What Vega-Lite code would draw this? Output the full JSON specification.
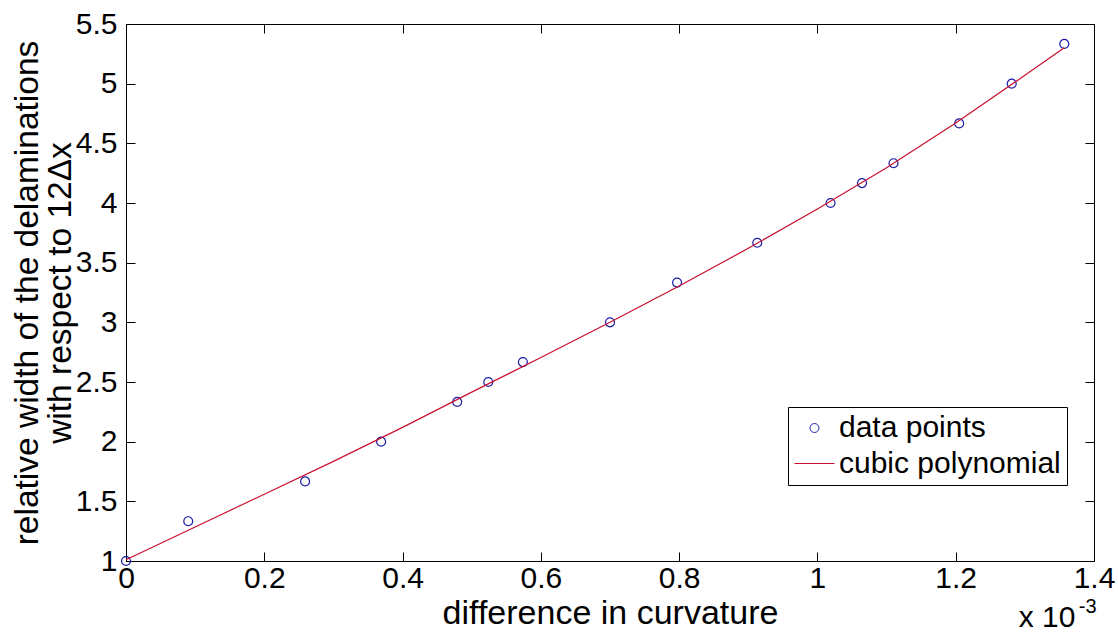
{
  "$schema": "https://vega.github.io/schema/vega-lite/v6.json",
  "width": 968,
  "height": 537,
  "autosize": "none",
  "padding": {"left": 126, "top": 24, "right": 24, "bottom": 75},
  "background": "white",
  "config": {
    "view": {"stroke": "black", "strokeWidth": 1},
    "font": "Liberation Sans",
    "axis": {
      "labelFont": "Liberation Sans", "labelFontSize": 30, "labelColor": "black",
      "tickColor": "black", "domainColor": "black", "grid": false, "tickSize": -9,
      "titleFont": "Liberation Sans", "titleFontSize": 33.5, "titleFontWeight": "normal", "titleColor": "black"
    }
  },
  "datasets": {
    "points": [
      {"x": 0, "y": 1, "series": "data points"},
      {"x": 0.090, "y": 1.3333, "series": "data points"},
      {"x": 0.259, "y": 1.6667, "series": "data points"},
      {"x": 0.369, "y": 2.0, "series": "data points"},
      {"x": 0.479, "y": 2.3333, "series": "data points"},
      {"x": 0.524, "y": 2.5, "series": "data points"},
      {"x": 0.574, "y": 2.6667, "series": "data points"},
      {"x": 0.700, "y": 3.0, "series": "data points"},
      {"x": 0.797, "y": 3.3333, "series": "data points"},
      {"x": 0.913, "y": 3.6667, "series": "data points"},
      {"x": 1.019, "y": 4.0, "series": "data points"},
      {"x": 1.0645, "y": 4.1667, "series": "data points"},
      {"x": 1.110, "y": 4.3333, "series": "data points"},
      {"x": 1.205, "y": 4.6667, "series": "data points"},
      {"x": 1.281, "y": 5.0, "series": "data points"},
      {"x": 1.357, "y": 5.3333, "series": "data points"}
    ],
    "fit": [
      {"x": 0, "y": 1.01},
      {"x": 0.1, "y": 1.285},
      {"x": 0.2, "y": 1.56},
      {"x": 0.3, "y": 1.835},
      {"x": 0.4, "y": 2.12},
      {"x": 0.5, "y": 2.415},
      {"x": 0.6, "y": 2.705},
      {"x": 0.7, "y": 3.0},
      {"x": 0.8, "y": 3.305},
      {"x": 0.9, "y": 3.62},
      {"x": 1.0, "y": 3.95},
      {"x": 1.1, "y": 4.295},
      {"x": 1.2, "y": 4.67},
      {"x": 1.3, "y": 5.07},
      {"x": 1.357, "y": 5.30}
    ]
  },
  "layer": [
    {
      "data": {"name": "points"},
      "mark": {"type": "point", "filled": false, "strokeWidth": 1.2, "opacity": 1},
      "encoding": {
        "x": {"field": "x", "type": "quantitative",
              "scale": {"domain": [0, 1.4], "nice": false, "zero": false},
              "axis": {"orient": "bottom", "title": "difference in curvature", "titleFontSize": 34,
                       "values": [0, 0.2, 0.4, 0.6, 0.8, 1, 1.2, 1.4],
                       "labelExpr": "format(datum.value, '~g')", "labelPadding": 11,
                       "labelFlush": false, "titlePadding": 3}},
        "y": {"field": "y", "type": "quantitative",
              "scale": {"domain": [1, 5.5], "nice": false, "zero": false},
              "axis": {"orient": "left",
                       "title": ["relative width of the delaminations", "with respect to 12\u0394x"],
                       "values": [1, 1.5, 2, 2.5, 3, 3.5, 4, 4.5, 5, 5.5],
                       "labelExpr": "format(datum.value, '~g')", "labelPadding": 18,
                       "labelFlush": false, "titlePadding": -2, "titleLineHeight": 33}},
        "color": {"field": "series", "type": "nominal",
                  "scale": {"domain": ["data points", "cubic polynomial"], "range": ["#1c1ca8", "#c8102e"]},
                  "legend": {"title": null, "orient": "none", "legendX": 662, "legendY": 383,
                             "fillColor": "white", "strokeColor": "black", "padding": 6,
                             "labelFontSize": 30, "labelFont": "Liberation Sans", "labelColor": "black",
                             "labelLimit": 400, "symbolStrokeWidth": 1, "labelOffset": 4, "rowPadding": 0}},
        "shape": {"field": "series", "type": "nominal",
                  "scale": {"domain": ["data points", "cubic polynomial"], "range": ["circle", "stroke"]},
                  "legend": {"title": null, "orient": "none", "legendX": 662, "legendY": 383,
                             "fillColor": "white", "strokeColor": "black", "padding": 6,
                             "labelFontSize": 30, "labelFont": "Liberation Sans", "labelColor": "black",
                             "labelLimit": 400, "symbolStrokeWidth": 1, "labelOffset": 4, "rowPadding": 0}},
        "size": {"field": "series", "type": "nominal",
                 "scale": {"domain": ["data points", "cubic polynomial"], "range": [80, 1600]},
                 "legend": {"title": null, "orient": "none", "legendX": 662, "legendY": 383,
                            "fillColor": "white", "strokeColor": "black", "padding": 6,
                            "labelFontSize": 30, "labelFont": "Liberation Sans", "labelColor": "black",
                            "labelLimit": 400, "symbolStrokeWidth": 1, "labelOffset": 4, "rowPadding": 0}}
      }
    },
    {
      "data": {"name": "fit"},
      "mark": {"type": "line", "color": "#c8102e", "strokeWidth": 1.2},
      "encoding": {
        "x": {"field": "x", "type": "quantitative",
              "axis": {"orient": "top", "labels": false, "title": null,
                       "values": [0, 0.2, 0.4, 0.6, 0.8, 1, 1.2, 1.4]}},
        "y": {"field": "y", "type": "quantitative",
              "axis": {"orient": "right", "labels": false, "title": null,
                       "values": [1, 1.5, 2, 2.5, 3, 3.5, 4, 4.5, 5, 5.5]}}
      }
    },
    {
      "data": {"values": [{"t": "x 10"}]},
      "mark": {"type": "text", "align": "left", "baseline": "alphabetic", "fontSize": 30, "font": "Liberation Sans", "color": "black"},
      "encoding": {
        "x": {"datum": 1.291, "type": "quantitative", "axis": null},
        "y": {"datum": 0.45, "type": "quantitative", "axis": null},
        "text": {"field": "t"}
      }
    },
    {
      "data": {"values": [{"t": "-3"}]},
      "mark": {"type": "text", "align": "left", "baseline": "alphabetic", "fontSize": 20, "font": "Liberation Sans", "color": "black"},
      "encoding": {
        "x": {"datum": 1.378, "type": "quantitative", "axis": null},
        "y": {"datum": 0.568, "type": "quantitative", "axis": null},
        "text": {"field": "t"}
      }
    }
  ],
  "resolve": {"axis": {"x": "independent", "y": "independent"}}
}
